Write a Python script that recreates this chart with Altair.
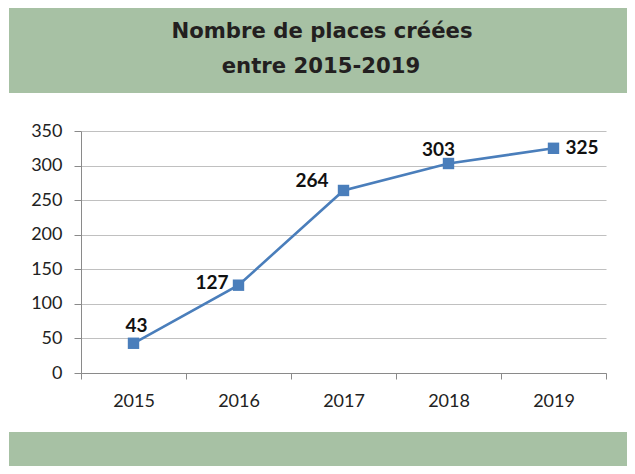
import altair as alt
import pandas as pd

years = ["2015", "2016", "2017", "2018", "2019"]
places = [43, 127, 264, 303, 325]
title_lines = ["Nombre de places créées", "entre 2015-2019"]
y_ticks = [0, 50, 100, 150, 200, 250, 300, 350]

df = pd.DataFrame({"year": years, "places": places})

GREEN = "#a7c1a4"
BLUE = "#4a7ebb"
W, H = 525, 242

x_enc = alt.X("year:O", title=None, bandPosition=0.5,
              scale=alt.Scale(type="band", paddingInner=0, paddingOuter=0),
              axis=alt.Axis(tickBand="extent", labelAngle=0, labelFont="Lato",
                            labelFontSize=18, labelColor="#222222", labelPadding=13,
                            tickSize=6, tickColor="#8a8a8a", domainColor="#8a8a8a",
                            grid=False))
y_enc = alt.Y("places:Q", title=None,
              scale=alt.Scale(domain=[0, 350], nice=False),
              axis=alt.Axis(values=y_ticks, labelFont="Lato", labelFontSize=18,
                            labelColor="#222222", labelPadding=12, tickSize=7,
                            tickColor="#8a8a8a", domainColor="#8a8a8a",
                            gridColor="#c0c0c0", gridWidth=1.2))

base = alt.Chart(df)

deco = pd.DataFrame({"k": [0]})
top_band = alt.Chart(deco).mark_rect(color=GREEN).encode(
    x=alt.value(-72), x2=alt.value(560), y=alt.value(-124), y2=alt.value(-38))
bottom_band = alt.Chart(deco).mark_rect(color=GREEN).encode(
    x=alt.value(-72), x2=alt.value(560), y=alt.value(301), y2=alt.value(345))

t1 = alt.Chart(pd.DataFrame({"t": [title_lines[0]]})).mark_text(
    font="DejaVu Sans", fontWeight="bold", fontSize=21.2, color="#231f20",
    align="center", baseline="alphabetic").encode(
    text="t:N", x=alt.value(241), y=alt.value(-93))
t2 = alt.Chart(pd.DataFrame({"t": [title_lines[1]]})).mark_text(
    font="DejaVu Sans", fontWeight="bold", fontSize=21.2, color="#231f20",
    align="center", baseline="alphabetic").encode(
    text="t:N", x=alt.value(240), y=alt.value(-58))

line = base.mark_line(color=BLUE, strokeWidth=2.6).encode(x=x_enc, y=y_enc)
pts = base.mark_square(color=BLUE, size=130, opacity=1).encode(x=x_enc, y=y_enc)

label_pos = {
    "2015": ("center", 3, -17),
    "2016": ("right", -10, -2),
    "2017": ("right", -15, -9),
    "2018": ("center", -10, -13),
    "2019": ("left", 12, 0),
}
labels = []
for yr, (al, dx, dy) in label_pos.items():
    labels.append(
        base.transform_filter(alt.datum.year == yr).mark_text(
            font="Lato", fontWeight="bold", fontSize=19, color="#111111",
            align=al, baseline="middle", dx=dx, dy=dy).encode(
            x=x_enc, y=y_enc, text="places:Q"))

chart = alt.layer(top_band, bottom_band, t1, t2, line, pts, *labels).properties(
    width=W, height=H,
    autosize=alt.AutoSizeParams(type="none"),
    padding={"left": 73, "top": 123, "right": 21, "bottom": 93},
    background="white",
).configure_view(stroke=None)

chart.save("out.html", embed_options={"renderer": "svg", "actions": False})
